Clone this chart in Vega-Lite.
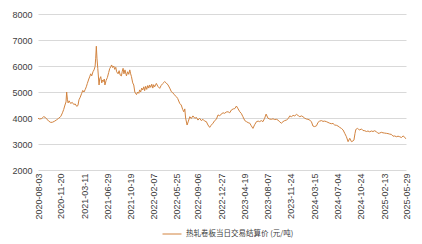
{
  "$schema": "https://vega.github.io/schema/vega-lite/v6.json",
  "autosize": "none",
  "width": 368,
  "height": 156,
  "padding": {"left": 38, "top": 14, "right": 16, "bottom": 74},
  "background": "white",
  "config": {
    "view": {"stroke": null},
    "font": "Liberation Sans"
  },
  "data": {"values": [
    {"date": "2020-08-03", "price": 3990},
    {"date": "2020-08-11", "price": 3960},
    {"date": "2020-08-21", "price": 3980},
    {"date": "2020-08-30", "price": 4050},
    {"date": "2020-09-06", "price": 4030},
    {"date": "2020-09-14", "price": 3960},
    {"date": "2020-09-23", "price": 3880},
    {"date": "2020-10-03", "price": 3830},
    {"date": "2020-10-12", "price": 3840},
    {"date": "2020-10-22", "price": 3880},
    {"date": "2020-10-31", "price": 3930},
    {"date": "2020-11-10", "price": 3990},
    {"date": "2020-11-20", "price": 4060},
    {"date": "2020-11-28", "price": 4200},
    {"date": "2020-12-04", "price": 4330},
    {"date": "2020-12-10", "price": 4500},
    {"date": "2020-12-15", "price": 4620},
    {"date": "2020-12-18", "price": 5000},
    {"date": "2020-12-22", "price": 4700},
    {"date": "2020-12-25", "price": 4580},
    {"date": "2020-12-30", "price": 4660},
    {"date": "2021-01-06", "price": 4560},
    {"date": "2021-01-14", "price": 4600},
    {"date": "2021-01-21", "price": 4520},
    {"date": "2021-01-28", "price": 4540},
    {"date": "2021-02-04", "price": 4450},
    {"date": "2021-02-10", "price": 4480},
    {"date": "2021-02-15", "price": 4700},
    {"date": "2021-02-21", "price": 4800},
    {"date": "2021-02-28", "price": 4950},
    {"date": "2021-03-05", "price": 5060},
    {"date": "2021-03-11", "price": 5000},
    {"date": "2021-03-17", "price": 5100},
    {"date": "2021-03-22", "price": 5200},
    {"date": "2021-03-27", "price": 5330},
    {"date": "2021-04-03", "price": 5500},
    {"date": "2021-04-07", "price": 5580},
    {"date": "2021-04-12", "price": 5700},
    {"date": "2021-04-17", "price": 5620},
    {"date": "2021-04-23", "price": 5780},
    {"date": "2021-04-28", "price": 5850},
    {"date": "2021-05-03", "price": 5980},
    {"date": "2021-05-06", "price": 6300},
    {"date": "2021-05-09", "price": 6760},
    {"date": "2021-05-12", "price": 6300},
    {"date": "2021-05-16", "price": 5900},
    {"date": "2021-05-22", "price": 5270},
    {"date": "2021-05-25", "price": 5500},
    {"date": "2021-05-30", "price": 5590},
    {"date": "2021-06-04", "price": 5350},
    {"date": "2021-06-07", "price": 5460},
    {"date": "2021-06-11", "price": 5400},
    {"date": "2021-06-16", "price": 5500},
    {"date": "2021-06-19", "price": 5270},
    {"date": "2021-06-25", "price": 5450},
    {"date": "2021-07-01", "price": 5560},
    {"date": "2021-07-07", "price": 5750},
    {"date": "2021-07-12", "price": 5900},
    {"date": "2021-07-17", "price": 5970},
    {"date": "2021-07-21", "price": 6040},
    {"date": "2021-07-26", "price": 5940},
    {"date": "2021-07-31", "price": 6000},
    {"date": "2021-08-05", "price": 5870},
    {"date": "2021-08-10", "price": 5950},
    {"date": "2021-08-14", "price": 5780},
    {"date": "2021-08-21", "price": 5700},
    {"date": "2021-08-26", "price": 5820},
    {"date": "2021-08-31", "price": 5650},
    {"date": "2021-09-06", "price": 5620},
    {"date": "2021-09-10", "price": 5800},
    {"date": "2021-09-14", "price": 5910},
    {"date": "2021-09-18", "price": 5700},
    {"date": "2021-09-23", "price": 5850},
    {"date": "2021-09-30", "price": 5620},
    {"date": "2021-10-06", "price": 5780},
    {"date": "2021-10-11", "price": 5680},
    {"date": "2021-10-16", "price": 5850},
    {"date": "2021-10-20", "price": 5700},
    {"date": "2021-10-24", "price": 5590},
    {"date": "2021-10-30", "price": 5350},
    {"date": "2021-11-04", "price": 5270},
    {"date": "2021-11-09", "price": 5000},
    {"date": "2021-11-17", "price": 4900},
    {"date": "2021-11-23", "price": 5000},
    {"date": "2021-11-28", "price": 4950},
    {"date": "2021-12-02", "price": 5080},
    {"date": "2021-12-07", "price": 5000},
    {"date": "2021-12-12", "price": 5150},
    {"date": "2021-12-17", "price": 5080},
    {"date": "2021-12-22", "price": 5200},
    {"date": "2021-12-26", "price": 5050},
    {"date": "2021-12-31", "price": 5220},
    {"date": "2022-01-05", "price": 5100},
    {"date": "2022-01-10", "price": 5250},
    {"date": "2022-01-15", "price": 5150},
    {"date": "2022-01-19", "price": 5270},
    {"date": "2022-01-24", "price": 5180},
    {"date": "2022-01-29", "price": 5300},
    {"date": "2022-02-03", "price": 5150},
    {"date": "2022-02-07", "price": 5280},
    {"date": "2022-02-12", "price": 5200},
    {"date": "2022-02-20", "price": 5330},
    {"date": "2022-02-27", "price": 5220},
    {"date": "2022-03-08", "price": 5140},
    {"date": "2022-03-15", "price": 5250},
    {"date": "2022-03-22", "price": 5320},
    {"date": "2022-04-01", "price": 5400},
    {"date": "2022-04-08", "price": 5350},
    {"date": "2022-04-17", "price": 5270},
    {"date": "2022-04-25", "price": 5150},
    {"date": "2022-05-03", "price": 5010},
    {"date": "2022-05-09", "price": 4980},
    {"date": "2022-05-16", "price": 4900},
    {"date": "2022-05-27", "price": 4820},
    {"date": "2022-06-02", "price": 4750},
    {"date": "2022-06-12", "price": 4560},
    {"date": "2022-06-19", "price": 4500},
    {"date": "2022-06-26", "price": 4330},
    {"date": "2022-07-01", "price": 4240},
    {"date": "2022-07-06", "price": 4350},
    {"date": "2022-07-10", "price": 4000},
    {"date": "2022-07-17", "price": 3730},
    {"date": "2022-07-22", "price": 3850},
    {"date": "2022-07-30", "price": 4050},
    {"date": "2022-08-06", "price": 3980},
    {"date": "2022-08-14", "price": 4080},
    {"date": "2022-08-23", "price": 3990},
    {"date": "2022-08-31", "price": 4020},
    {"date": "2022-09-07", "price": 3920},
    {"date": "2022-09-15", "price": 3990},
    {"date": "2022-09-23", "price": 3900},
    {"date": "2022-10-01", "price": 3950},
    {"date": "2022-10-09", "price": 3880},
    {"date": "2022-10-17", "price": 3860},
    {"date": "2022-10-25", "price": 3730},
    {"date": "2022-11-02", "price": 3640},
    {"date": "2022-11-09", "price": 3720},
    {"date": "2022-11-18", "price": 3800},
    {"date": "2022-11-26", "price": 3900},
    {"date": "2022-12-04", "price": 3950},
    {"date": "2022-12-12", "price": 4120},
    {"date": "2022-12-20", "price": 4080},
    {"date": "2022-12-27", "price": 4150},
    {"date": "2023-01-05", "price": 4200},
    {"date": "2023-01-13", "price": 4180},
    {"date": "2023-01-20", "price": 4230},
    {"date": "2023-01-29", "price": 4240},
    {"date": "2023-02-06", "price": 4200},
    {"date": "2023-02-14", "price": 4310},
    {"date": "2023-02-23", "price": 4350},
    {"date": "2023-03-02", "price": 4360},
    {"date": "2023-03-10", "price": 4460},
    {"date": "2023-03-16", "price": 4380},
    {"date": "2023-03-26", "price": 4240},
    {"date": "2023-04-02", "price": 4180},
    {"date": "2023-04-10", "price": 4050},
    {"date": "2023-04-19", "price": 3900},
    {"date": "2023-04-27", "price": 3860},
    {"date": "2023-05-05", "price": 3820},
    {"date": "2023-05-13", "price": 3800},
    {"date": "2023-05-20", "price": 3700},
    {"date": "2023-05-28", "price": 3600},
    {"date": "2023-06-05", "price": 3740},
    {"date": "2023-06-14", "price": 3860},
    {"date": "2023-06-22", "price": 3880},
    {"date": "2023-06-29", "price": 3860},
    {"date": "2023-07-07", "price": 3900},
    {"date": "2023-07-15", "price": 3860},
    {"date": "2023-07-23", "price": 3990},
    {"date": "2023-07-30", "price": 4150},
    {"date": "2023-08-08", "price": 3990},
    {"date": "2023-08-16", "price": 3960},
    {"date": "2023-08-24", "price": 3950},
    {"date": "2023-09-01", "price": 3970},
    {"date": "2023-09-09", "price": 3940},
    {"date": "2023-09-17", "price": 3950},
    {"date": "2023-09-25", "price": 3920},
    {"date": "2023-10-03", "price": 3850},
    {"date": "2023-10-11", "price": 3800},
    {"date": "2023-10-19", "price": 3860},
    {"date": "2023-10-27", "price": 3900},
    {"date": "2023-11-04", "price": 3920},
    {"date": "2023-11-13", "price": 3980},
    {"date": "2023-11-20", "price": 4080},
    {"date": "2023-11-28", "price": 4050},
    {"date": "2023-12-06", "price": 4100},
    {"date": "2023-12-14", "price": 4080},
    {"date": "2023-12-22", "price": 4140},
    {"date": "2023-12-31", "price": 4090},
    {"date": "2024-01-07", "price": 4050},
    {"date": "2024-01-15", "price": 4080},
    {"date": "2024-01-22", "price": 4050},
    {"date": "2024-01-31", "price": 3990},
    {"date": "2024-02-08", "price": 3960},
    {"date": "2024-02-15", "price": 3950},
    {"date": "2024-02-24", "price": 3920},
    {"date": "2024-03-03", "price": 3850},
    {"date": "2024-03-10", "price": 3690},
    {"date": "2024-03-18", "price": 3670},
    {"date": "2024-03-27", "price": 3700},
    {"date": "2024-04-03", "price": 3830},
    {"date": "2024-04-11", "price": 3880},
    {"date": "2024-04-20", "price": 3900},
    {"date": "2024-04-27", "price": 3870},
    {"date": "2024-05-05", "price": 3880},
    {"date": "2024-05-13", "price": 3860},
    {"date": "2024-05-21", "price": 3830},
    {"date": "2024-05-29", "price": 3800},
    {"date": "2024-06-06", "price": 3780},
    {"date": "2024-06-14", "price": 3790},
    {"date": "2024-06-22", "price": 3730},
    {"date": "2024-06-30", "price": 3720},
    {"date": "2024-07-08", "price": 3690},
    {"date": "2024-07-16", "price": 3640},
    {"date": "2024-07-24", "price": 3600},
    {"date": "2024-08-01", "price": 3540},
    {"date": "2024-08-09", "price": 3410},
    {"date": "2024-08-17", "price": 3280},
    {"date": "2024-08-25", "price": 3090},
    {"date": "2024-09-02", "price": 3220},
    {"date": "2024-09-10", "price": 3090},
    {"date": "2024-09-18", "price": 3120},
    {"date": "2024-09-22", "price": 3150},
    {"date": "2024-09-27", "price": 3400},
    {"date": "2024-10-01", "price": 3560},
    {"date": "2024-10-09", "price": 3600},
    {"date": "2024-10-15", "price": 3560},
    {"date": "2024-10-20", "price": 3540},
    {"date": "2024-10-28", "price": 3580},
    {"date": "2024-11-04", "price": 3520},
    {"date": "2024-11-13", "price": 3510},
    {"date": "2024-11-21", "price": 3480},
    {"date": "2024-11-28", "price": 3500},
    {"date": "2024-12-06", "price": 3470},
    {"date": "2024-12-15", "price": 3500},
    {"date": "2024-12-22", "price": 3480},
    {"date": "2024-12-30", "price": 3510},
    {"date": "2025-01-08", "price": 3470},
    {"date": "2025-01-15", "price": 3410},
    {"date": "2025-01-23", "price": 3420},
    {"date": "2025-01-31", "price": 3450},
    {"date": "2025-02-08", "price": 3430},
    {"date": "2025-02-16", "price": 3420},
    {"date": "2025-02-24", "price": 3410},
    {"date": "2025-03-04", "price": 3400},
    {"date": "2025-03-12", "price": 3380},
    {"date": "2025-03-20", "price": 3370},
    {"date": "2025-03-28", "price": 3300},
    {"date": "2025-04-05", "price": 3310},
    {"date": "2025-04-13", "price": 3280},
    {"date": "2025-04-21", "price": 3300},
    {"date": "2025-04-29", "price": 3280},
    {"date": "2025-05-07", "price": 3250},
    {"date": "2025-05-15", "price": 3310},
    {"date": "2025-05-23", "price": 3260},
    {"date": "2025-05-28", "price": 3200}
  ]},
  "mark": {"type": "line", "strokeWidth": 1, "interpolate": "linear"},
  "encoding": {
    "x": {
      "field": "date",
      "type": "temporal",
      "scale": {
        "type": "utc",
        "domain": [
          {"year": 2020, "month": 8, "date": 3, "utc": true},
          {"year": 2025, "month": 5, "date": 29, "utc": true}
        ]
      },
      "axis": {
        "title": null,
        "values": [
          {"year": 2020, "month": 8, "date": 3, "utc": true},
          {"year": 2020, "month": 11, "date": 20, "utc": true},
          {"year": 2021, "month": 3, "date": 11, "utc": true},
          {"year": 2021, "month": 6, "date": 29, "utc": true},
          {"year": 2021, "month": 10, "date": 19, "utc": true},
          {"year": 2022, "month": 2, "date": 7, "utc": true},
          {"year": 2022, "month": 5, "date": 25, "utc": true},
          {"year": 2022, "month": 9, "date": 6, "utc": true},
          {"year": 2022, "month": 12, "date": 27, "utc": true},
          {"year": 2023, "month": 4, "date": 19, "utc": true},
          {"year": 2023, "month": 8, "date": 7, "utc": true},
          {"year": 2023, "month": 11, "date": 24, "utc": true},
          {"year": 2024, "month": 3, "date": 15, "utc": true},
          {"year": 2024, "month": 7, "date": 4, "utc": true},
          {"year": 2024, "month": 10, "date": 24, "utc": true},
          {"year": 2025, "month": 2, "date": 13, "utc": true},
          {"year": 2025, "month": 5, "date": 29, "utc": true}
        ],
        "format": "%Y-%m-%d",
        "labelAngle": -90,
        "labelFontSize": 9,
        "labelColor": "#404040",
        "labelPadding": 3,
        "labelOverlap": false,
        "labelFlush": false,
        "labelBound": false,
        "ticks": false,
        "domain": false,
        "grid": false
      }
    },
    "y": {
      "field": "price",
      "type": "quantitative",
      "scale": {"domain": [2000, 8000], "nice": false, "zero": false},
      "axis": {
        "title": null,
        "values": [2000, 3000, 4000, 5000, 6000, 7000, 8000],
        "format": "d",
        "labelFontSize": 9,
        "labelColor": "#404040",
        "labelPadding": 6,
        "ticks": false,
        "domain": false,
        "grid": true,
        "gridColor": "#d9d9d9",
        "gridWidth": 1
      }
    },
    "color": {
      "datum": "热轧卷板当日交易结算价 (元/吨)",
      "type": "nominal",
      "scale": {"range": ["#D2833F"]},
      "legend": {
        "title": null,
        "orient": "none",
        "legendX": 124,
        "legendY": 210,
        "symbolType": "stroke",
        "symbolSize": 360,
        "symbolStrokeWidth": 1,
        "labelFontSize": 7.5,
        "labelColor": "#404040",
        "labelFont": "Noto Sans CJK SC",
        "padding": 0
      }
    }
  }
}
